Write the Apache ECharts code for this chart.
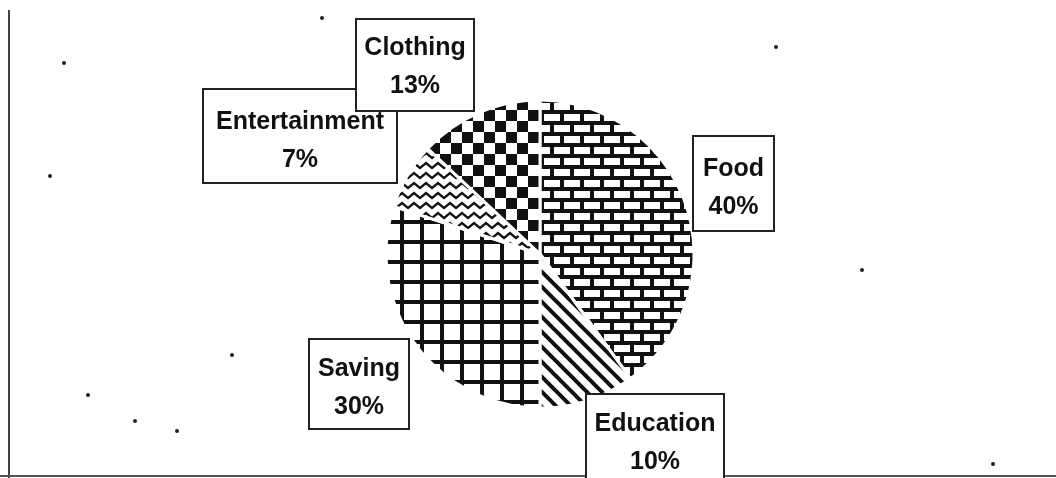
<!DOCTYPE html>
<html>
<head>
<meta charset="utf-8">
<script src="https://cdn.jsdelivr.net/npm/echarts@6/dist/echarts.min.js"></script>
<style>
  html, body { margin: 0; padding: 0; background: #fff; }
  #main { width: 1056px; height: 478px; }
</style>
</head>
<body>
<div id="main"></div>
<script>
// data
const categories = ['Food', 'Education', 'Saving', 'Entertainment', 'Clothing'];
const shares = [40, 10, 30, 7, 13];
const patterns = ['brick', 'stripe', 'grid', 'zigzag', 'checker'];

// label boxes (left, top, width, height, text top padding) - layout only
const boxes = [
  [692, 137, 83, 93, 13],
  [585, 395, 140, 92, 10.5],
  [308, 340, 102, 88, 10.5],
  [202, 90, 196, 92, 13.5],
  [355, 20, 120, 90, 9.5]
];

// small tiles used as fill patterns
function makePattern(kind) {
  const c = document.createElement('canvas');
  let w = 20, h = 20;
  if (kind === 'brick') { w = 20; h = 22; }
  if (kind === 'stripe') { w = 15; h = 15; }
  if (kind === 'zigzag') { w = 12; h = 10; }
  if (kind === 'checker') { w = 22; h = 22; }
  c.width = w; c.height = h;
  const ctx = c.getContext('2d');
  ctx.fillStyle = '#fff';
  ctx.fillRect(0, 0, w, h);
  ctx.fillStyle = '#111';
  ctx.strokeStyle = '#111';
  if (kind === 'brick') {
    ctx.fillRect(0, 0, w, 4);
    ctx.fillRect(0, 11, w, 4);
    ctx.fillRect(0, 0, 4, 11);
    ctx.fillRect(10, 11, 4, 11);
  } else if (kind === 'stripe') {
    ctx.lineWidth = 4;
    ctx.beginPath();
    ctx.moveTo(-2, -2); ctx.lineTo(w + 2, h + 2);
    ctx.moveTo(-2 - w, -2); ctx.lineTo(2, h + 2);
    ctx.moveTo(w - 2, -2); ctx.lineTo(2 * w + 2, h + 2);
    ctx.stroke();
  } else if (kind === 'grid') {
    ctx.fillRect(0, 0, 4, h);
    ctx.fillRect(0, 0, w, 4);
  } else if (kind === 'zigzag') {
    ctx.lineWidth = 2.4;
    ctx.lineJoin = 'miter';
    ctx.beginPath();
    ctx.moveTo(-6, 3); ctx.lineTo(0, 8); ctx.lineTo(6, 3); ctx.lineTo(12, 8); ctx.lineTo(18, 3);
    ctx.stroke();
  } else if (kind === 'checker') {
    ctx.fillRect(0, 0, 11, 11);
    ctx.fillRect(11, 11, 11, 11);
  }
  return { image: c, repeat: 'repeat' };
}

const dots = [[64, 63], [50, 176], [88, 395], [135, 421], [177, 431], [322, 18], [993, 464], [232, 355], [776, 47], [862, 270]];

const myChart = echarts.init(document.getElementById('main'));

const pieData = categories.map((name, i) => {
  const b = boxes[i];
  const padTop = b[4];
  const padBottom = Math.max(0, b[3] - 76 - padTop);
  return {
    name: name,
    value: shares[i],
    itemStyle: { color: makePattern(patterns[i]) },
    label: { width: b[2] - 4, padding: [padTop, 0, padBottom, 0] }
  };
});

const option = {
  backgroundColor: '#fff',
  animation: false,
  graphic: [
    { type: 'line', shape: { x1: 9, y1: 10, x2: 9, y2: 478 }, style: { stroke: '#444', lineWidth: 2 } },
    { type: 'line', shape: { x1: 0, y1: 476, x2: 1056, y2: 476 }, style: { stroke: '#555', lineWidth: 2 } }
  ].concat(dots.map(d => ({
    type: 'circle', shape: { cx: d[0], cy: d[1], r: 2 }, style: { fill: '#222' }
  }))),
  series: [
    {
      type: 'pie',
      center: [540, 254],
      radius: 154,
      startAngle: 90,
      clockwise: true,
      data: pieData,
      itemStyle: {
        borderColor: '#fff',
        borderWidth: 3
      },
      label: {
        show: true,
        position: 'outside',
        formatter: '{b}\n{c}%',
        fontFamily: '"Liberation Sans", Arial, sans-serif',
        fontWeight: 'bold',
        fontSize: 25,
        lineHeight: 38,
        color: '#111',
        align: 'center',
        backgroundColor: '#fff',
        borderColor: '#222',
        borderWidth: 2
      },
      labelLine: { show: false },
      labelLayout: function (params) {
        const b = boxes[params.dataIndex];
        return {
          x: b[0] + b[2] / 2,
          y: b[1],
          align: 'center',
          verticalAlign: 'top'
        };
      }
    }
  ]
};
myChart.setOption(option);
</script>
</body>
</html>
